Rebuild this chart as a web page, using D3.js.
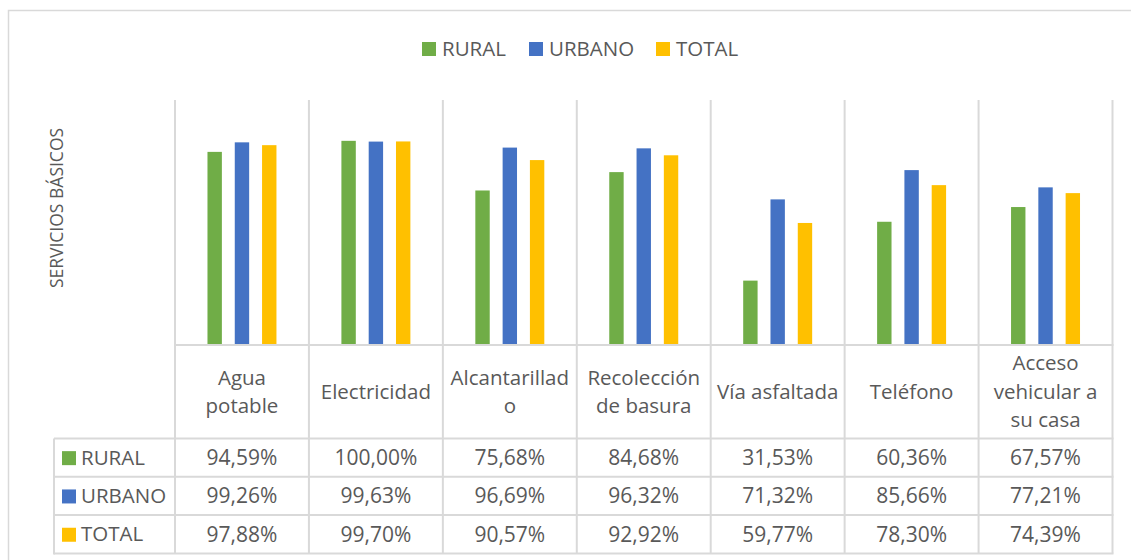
<!DOCTYPE html>
<html>
<head>
<meta charset="utf-8">
<script src="https://cdn.jsdelivr.net/npm/d3@7"></script>
<style>
  body { margin: 0; background: #fff; }
  svg text { font-family: "Open Sans", sans-serif; fill: #595959; }
</style>
</head>
<body>
<div id="chart-area"></div>
<script>
// data
const categories = ["Agua potable", "Electricidad", "Alcantarillado", "Recolección de basura", "Vía asfaltada", "Teléfono", "Acceso vehicular a su casa"]
const categoryLines = [["Agua", "potable"], ["Electricidad"], ["Alcantarillad", "o"], ["Recolección", "de basura"], ["Vía asfaltada"], ["Teléfono"], ["Acceso", "vehicular a", "su casa"]]
const seriesNames = ["RURAL", "URBANO", "TOTAL"]
const rural = [94.59, 100.00, 75.68, 84.68, 31.53, 60.36, 67.57]
const urbano = [99.26, 99.63, 96.69, 96.32, 71.32, 85.66, 77.21]
const total = [97.88, 99.70, 90.57, 92.92, 59.77, 78.30, 74.39]
const colors = ["#70ad47", "#4472c4", "#ffc000"]
const yTitle = "SERVICIOS BÁSICOS"

function drawChart() {
    const seriesValues = [rural, urbano, total]

    const svgWidth = 1131
    const svgHeight = 560
    const plot = { left: 175, right: 1112.5, top: 100, bottom: 345 }
    const table = { left: 54, headerBottom: 438.5, rowHeight: 38.3 }
    const gridColor = "#d9d9d9"
    const fontSize = 20.5

    const svg = d3.select("#chart-area")
        .append("svg")
        .attr("width", svgWidth)
        .attr("height", svgHeight)

    // chart border (runs off to the right and bottom)
    svg.append("rect")
        .attr("x", 8.5)
        .attr("y", 10.5)
        .attr("width", svgWidth + 20)
        .attr("height", svgHeight + 20)
        .attr("fill", "none")
        .attr("stroke", gridColor)
        .attr("stroke-width", 1.5)

    const xScale = d3.scaleBand()
        .domain(categories)
        .range([plot.left, plot.right])

    const xInner = d3.scaleBand()
        .domain(seriesNames)
        .range([0, xScale.bandwidth()])
        .paddingInner(0.4725)
        .paddingOuter(1.19)

    const yScale = d3.scaleLinear()
        .domain([0, 120])
        .range([plot.bottom, plot.top])

    // category separators in plot area and table
    const tableBottom = table.headerBottom + table.rowHeight * seriesNames.length
    const edges = categories.map(c => xScale(c)).concat([plot.right])
    svg.append("g")
        .selectAll("line")
        .data(edges)
        .join("line")
        .attr("x1", d => d)
        .attr("x2", d => d)
        .attr("y1", plot.top)
        .attr("y2", tableBottom)
        .attr("stroke", gridColor)
        .attr("stroke-width", 2)

    // bars
    const groups = svg.append("g")
        .selectAll("g")
        .data(seriesNames)
        .join("g")
        .attr("fill", (d, i) => colors[i])

    groups.selectAll("rect")
        .data((s, si) => categories.map((c, ci) => ({ c, s, v: seriesValues[si][ci] })))
        .join("rect")
        .attr("x", d => xScale(d.c) + xInner(d.s))
        .attr("width", xInner.bandwidth())
        .attr("y", d => yScale(d.v))
        .attr("height", d => yScale(0) - yScale(d.v))

    // horizontal lines of the table
    const rowLines = [plot.bottom].concat(d3.range(seriesNames.length + 1).map(i => table.headerBottom + i * table.rowHeight))
    svg.append("g")
        .selectAll("line")
        .data(rowLines)
        .join("line")
        .attr("x1", (d, i) => i == 0 ? plot.left : table.left)
        .attr("x2", plot.right + 1)
        .attr("y1", d => d)
        .attr("y2", d => d)
        .attr("stroke", gridColor)
        .attr("stroke-width", 2)

    svg.append("line")
        .attr("x1", table.left)
        .attr("x2", table.left)
        .attr("y1", table.headerBottom)
        .attr("y2", tableBottom + 1)
        .attr("stroke", gridColor)
        .attr("stroke-width", 2)

    // category labels in the table header
    const lineHeight = 28.5
    const headerMid = (plot.bottom + table.headerBottom) / 2
    svg.append("g")
        .selectAll("text")
        .data(categories)
        .join("text")
        .attr("text-anchor", "middle")
        .attr("font-size", fontSize)
        .attr("x", d => xScale(d) + xScale.bandwidth() / 2)
        .attr("y", (d, i) => headerMid - (categoryLines[i].length - 1) * lineHeight / 2)
        .selectAll("tspan")
        .data((d, i) => categoryLines[i])
        .join("tspan")
        .attr("x", function() { return this.parentNode.getAttribute("x") })
        .attr("dy", (d, i) => i == 0 ? "0.35em" : lineHeight)
        .text(d => d)

    // table rows
    const fmt = v => d3.format(".2f")(v).replace(".", ",") + "%"
    const rows = svg.append("g")
        .selectAll("g")
        .data(seriesNames)
        .join("g")
        .attr("transform", (d, i) => `translate(0,${table.headerBottom + (i + 0.5) * table.rowHeight})`)

    rows.append("rect")
        .attr("x", 62)
        .attr("y", -6.5)
        .attr("width", 14)
        .attr("height", 14)
        .attr("fill", (d, i) => colors[i])

    rows.append("text")
        .attr("x", 81)
        .attr("dy", "0.35em")
        .attr("font-size", fontSize)
        .text(d => d)

    rows.selectAll(".val")
        .data((s, si) => seriesValues[si].map((v, ci) => ({ v, c: categories[ci] })))
        .join("text")
        .attr("class", "val")
        .attr("x", d => xScale(d.c) + xScale.bandwidth() / 2)
        .attr("dy", "0.35em")
        .attr("text-anchor", "middle")
        .attr("font-size", 21)
        .text(d => fmt(d.v))

    // legend
    const legendX = [422, 529, 656]
    const legend = svg.append("g")
        .selectAll("g")
        .data(seriesNames)
        .join("g")
        .attr("transform", (d, i) => `translate(${legendX[i]},49)`)

    legend.append("rect")
        .attr("y", -7)
        .attr("width", 14)
        .attr("height", 14)
        .attr("fill", (d, i) => colors[i])

    legend.append("text")
        .attr("x", 20)
        .attr("dy", "0.35em")
        .attr("font-size", fontSize)
        .text(d => d)

    // y title
    svg.append("text")
        .attr("transform", "translate(57,208) rotate(-90)")
        .attr("text-anchor", "middle")
        .attr("dy", "0.35em")
        .attr("font-size", 17.5)
        .text(yTitle)
}

drawChart()
</script>
</body>
</html>
